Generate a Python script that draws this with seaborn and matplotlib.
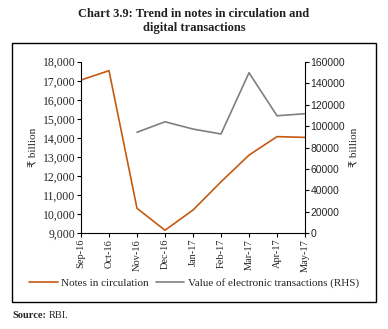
import matplotlib
matplotlib.use("Agg")
import matplotlib.pyplot as plt
import seaborn as sns
import pandas as pd
import numpy as np
from matplotlib.patches import Rectangle
from matplotlib.ticker import FuncFormatter

months = ["Sep-16", "Oct-16", "Nov-16", "Dec-16", "Jan-17", "Feb-17", "Mar-17", "Apr-17", "May-17"]
notes = [17040, 17530, 10310, 9160, 10220, 11700, 13100, 14070, 14030]
elec_months = ["Nov-16", "Dec-16", "Jan-17", "Feb-17", "Mar-17", "Apr-17", "May-17"]
electronic = [94200, 104000, 97200, 92600, 149700, 109600, 111500]

sns.set_theme(style="white")
plt.rcParams['font.family'] = ['Liberation Serif', 'DejaVu Serif', 'DejaVu Sans']

W, H = 388, 329
fig = plt.figure(figsize=(W/100, H/100), dpi=100)
ax = fig.add_axes([81/W, 1-233.3/H, (305-81)/W, (233.3-61.7)/H])

df1 = pd.DataFrame({"x": [months.index(m) for m in months], "y": notes})
df2 = pd.DataFrame({"x": [months.index(m) for m in elec_months], "y": electronic})

orange = "#C55A11"
gray = "#7F7F7F"
sns.lineplot(data=df1, x="x", y="y", ax=ax, color=orange, lw=1.2, label="Notes in circulation", legend=False)
ax2 = ax.twinx()
sns.lineplot(data=df2, x="x", y="y", ax=ax2, color=gray, lw=1.2, label="Value of electronic transactions (RHS)", legend=False)

ax.set_xlim(0, 8)
ax.set_ylim(9000, 18000)
ax.set_yticks(np.arange(9000, 18001, 1000))
ax.yaxis.set_major_formatter(FuncFormatter(lambda v, p: f"{int(v):,}"))
ax2.set_ylim(0, 160000)
ax2.set_yticks(np.arange(0, 160001, 20000))
ax2.yaxis.set_major_formatter(FuncFormatter(lambda v, p: f"{int(v)}"))
ax.set_xticks(range(len(months)))
ax.set_xticklabels(months, rotation=90, fontsize=7.5)

for a in (ax, ax2):
    a.set_facecolor("none")
    a.spines["top"].set_visible(False)
    for s in ("left", "right", "bottom"):
        a.spines[s].set_color("black")
        a.spines[s].set_linewidth(0.8)
ax.spines["right"].set_visible(False)
ax2.spines["left"].set_visible(False)
ax2.spines["bottom"].set_visible(False)

ax.tick_params(axis="both", direction="out", length=3, width=0.8, color="black", pad=1, left=True, bottom=True)
ax.tick_params(axis="y", labelsize=8.5)
ax.tick_params(axis="x", labelsize=7.5)
ax2.tick_params(axis="y", direction="out", length=3, width=0.8, color="black", labelsize=7.5, pad=1, right=True)
for t in ax2.get_yticklabels():
    t.set_family(['Liberation Sans', 'DejaVu Sans'])

ax.set_xlabel("")
ax.set_ylabel("₹ billion", fontsize=8, family=['Liberation Serif', 'DejaVu Sans'], labelpad=3)
ax2.set_ylabel("₹ billion", fontsize=8, family=['Liberation Serif', 'DejaVu Sans'], labelpad=4)

h1, l1 = ax.get_legend_handles_labels()
h2, l2 = ax2.get_legend_handles_labels()
fig.legend(h1 + h2, l1 + l2, loc="center", bbox_to_anchor=(194/W, 1-283/H), ncol=2, frameon=False,
           fontsize=8, handlelength=2.6, columnspacing=0.6, handletextpad=0.3)

fig.patches.append(Rectangle((12/W, 1-302/H), (376-12)/W, (302-43)/H, transform=fig.transFigure,
                             fill=False, edgecolor="black", lw=1.0))

fig.text(194/W, 1-14/H, "Chart 3.9: Trend in notes in circulation and", ha="center", va="center",
         fontsize=9, fontweight="bold", color="#222222")
fig.text(194/W, 1-28/H, "digital transactions", ha="center", va="center",
         fontsize=9, fontweight="bold", color="#222222")
src = fig.text(12/W, 1-316/H, "Source:", ha="left", va="center", fontsize=7.5, fontweight="bold")
fig.canvas.draw()
bb = src.get_window_extent(renderer=fig.canvas.get_renderer())
fig.text((bb.x1 + 3)/W, 1-316/H, "RBI.", ha="left", va="center", fontsize=7.5)

fig.savefig("out.png", dpi=100)
